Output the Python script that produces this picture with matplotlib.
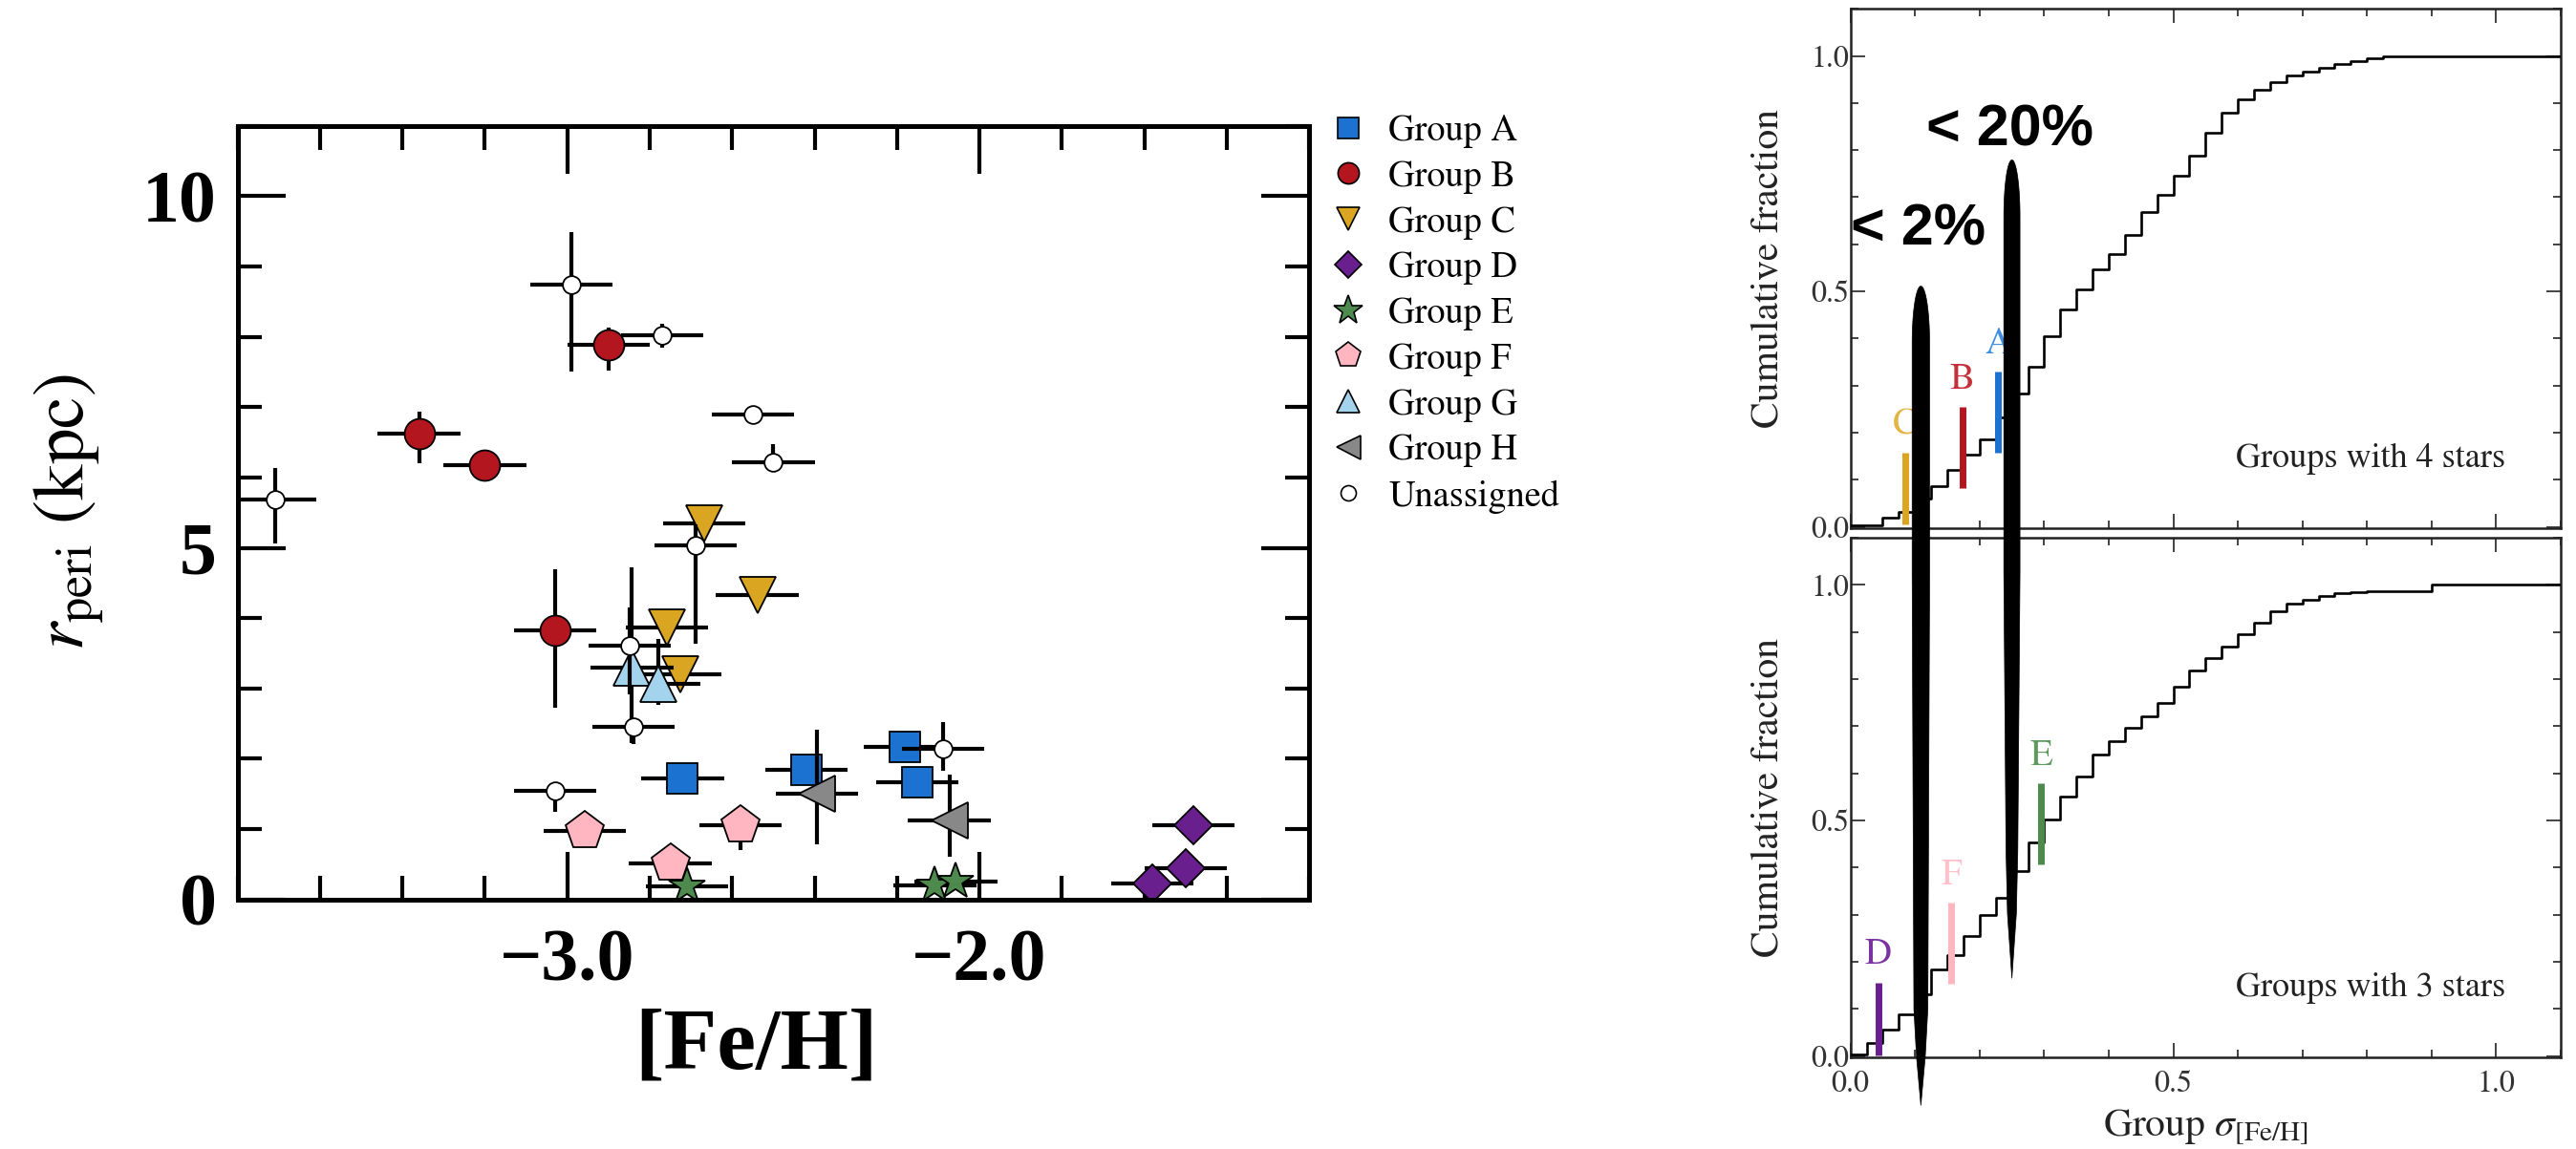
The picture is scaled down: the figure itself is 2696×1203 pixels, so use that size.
import numpy as np
import matplotlib
matplotlib.use("Agg")
import matplotlib.pyplot as plt
from matplotlib.lines import Line2D
from matplotlib.patches import Polygon
from matplotlib.ticker import MultipleLocator, FixedLocator, FuncFormatter

plt.rcParams["mathtext.fontset"] = "stix"

# ---------------- data: left panel ([Fe/H] vs r_peri) ----------------
feh_A = [-2.72, -2.42, -2.18, -2.15]
rp_A = [1.72, 1.84, 2.17, 1.66]
rlo_A = [0.10, 0.15, 0.10, 0.10]
rhi_A = [0.10, 0.15, 0.10, 0.10]

feh_B = [-3.36, -3.20, -2.90, -3.03]
rp_B = [6.62, 6.17, 7.88, 3.82]
rlo_B = [0.42, 0.15, 0.36, 1.10]
rhi_B = [0.31, 0.15, 0.25, 0.88]

feh_C = [-2.668, -2.539, -2.759, -2.726]
rp_C = [5.35, 4.33, 3.86, 3.20]
rlo_C = [0.10, 0.10, 0.20, 0.20]
rhi_C = [0.10, 0.10, 0.20, 0.20]

feh_D = [-1.48, -1.50, -1.58]
rp_D = [1.06, 0.45, 0.23]
rlo_D = [0.10, 0.10, 0.10]
rhi_D = [0.10, 0.10, 0.10]

feh_E = [-2.709, -2.108, -2.057]
rp_E = [0.18, 0.20, 0.25]
rlo_E = [0.10, 0.10, 0.10]
rhi_E = [0.10, 0.10, 0.10]

feh_F = [-2.958, -2.75, -2.58]
rp_F = [0.98, 0.51, 1.05]
rlo_F = [0.10, 0.10, 0.35]
rhi_F = [0.10, 0.10, 0.10]

feh_G = [-2.843, -2.778]
rp_G = [3.30, 3.06]
rlo_G = [1.08, 0.30]
rhi_G = [1.42, 0.64]

feh_H = [-2.394, -2.073]
rp_H = [1.50, 1.12]
rlo_H = [0.71, 0.51]
rhi_H = [0.92, 0.66]

feh_U = [-3.709, -2.99, -2.77, -2.55, -2.50, -2.689, -2.848, -2.839, -3.03, -2.088]
rp_U = [5.69, 8.74, 8.02, 6.90, 6.22, 5.03, 3.61, 2.46, 1.54, 2.14]
rlo_U = [0.63, 1.24, 0.17, 0.10, 0.10, 1.39, 0.70, 0.25, 0.30, 0.31]
rhi_U = [0.44, 0.75, 0.17, 0.10, 0.25, 0.30, 0.54, 0.10, 0.10, 0.38]

feh_err = 0.1  # typical [Fe/H] uncertainty

group_labels = ["Group A", "Group B", "Group C", "Group D", "Group E",
                "Group F", "Group G", "Group H", "Unassigned"]

# ---------------- data: right panels (cumulative distributions) ----------------
sigma_edges = [0.000, 0.025, 0.050, 0.075, 0.100, 0.125, 0.150, 0.175, 0.200,
               0.225, 0.250, 0.275, 0.300, 0.325, 0.350, 0.375, 0.400, 0.425,
               0.450, 0.475, 0.500, 0.525, 0.550, 0.575, 0.600, 0.625, 0.650,
               0.675, 0.700, 0.725, 0.750, 0.775, 0.800, 0.825, 0.850, 0.875,
               0.900, 1.100]
cum4 = [0.004, 0.004, 0.019, 0.032, 0.060, 0.087, 0.120, 0.154, 0.186,
        0.232, 0.282, 0.340, 0.404, 0.461, 0.505, 0.546, 0.580, 0.620,
        0.668, 0.705, 0.745, 0.789, 0.836, 0.880, 0.908, 0.928, 0.945,
        0.958, 0.967, 0.974, 0.983, 0.989, 0.995, 0.998, 0.998, 0.999,
        1.000, 1.000]
cum3 = [0.003, 0.028, 0.055, 0.089, 0.130, 0.184, 0.214, 0.254, 0.300,
        0.335, 0.393, 0.453, 0.502, 0.551, 0.594, 0.639, 0.668, 0.697,
        0.720, 0.750, 0.784, 0.818, 0.845, 0.869, 0.896, 0.920, 0.943,
        0.960, 0.968, 0.977, 0.982, 0.984, 0.986, 0.986, 0.986, 0.986,
        1.000, 1.000]

bar_names_4 = ["C", "B", "A"]
bar_sigma_4 = [0.085, 0.173, 0.229]
bar_lo_4 = [0.005, 0.083, 0.157]
bar_hi_4 = [0.157, 0.255, 0.330]

bar_names_3 = ["D", "F", "E"]
bar_sigma_3 = [0.043, 0.156, 0.295]
bar_lo_3 = [0.002, 0.153, 0.406]
bar_hi_3 = [0.156, 0.325, 0.578]

# ---------------- styles ----------------
col = {"A": "#1B72D0", "B": "#B3161F", "C": "#DAA520", "D": "#6A1F8F",
       "E": "#4E8A4E", "F": "#FFB6C1", "G": "#A4D3EE", "H": "#888888",
       "U": "white"}
lab_col = {"A": "#3F8FE0", "B": "#C4303A", "C": "#E3B547", "D": "#7A33A0",
           "E": "#5E9A5E", "F": "#FFC0CB"}
mk = {"A": "s", "B": "o", "C": "v", "D": "D", "E": "*", "F": "p", "G": "^",
      "H": "<", "U": "o"}
ms = {"A": 23.5, "B": 23, "C": 27, "D": 20, "E": 29, "F": 30, "G": 27,
      "H": 27, "U": 13.5}
ms_leg = {"A": 16.5, "B": 16, "C": 17, "D": 14, "E": 23, "F": 19.5, "G": 17.5,
          "H": 18, "U": 11.5}

W, H = 2696, 1203
fig = plt.figure(figsize=(W / 100, H / 100), dpi=100)

axL = fig.add_axes([248.75 / W, 1 - 941.7 / H, (1370 - 248.75) / W, (941.7 - 131.7) / H])
axT = fig.add_axes([1936.7 / W, 1 - 553 / H, (2680 - 1936.7) / W, (553 - 9.2) / H])
axB = fig.add_axes([1936.7 / W, 1 - 1107 / H, (2680 - 1936.7) / W, (1107 - 563) / H])

# ---------------- left panel ----------------
series = [("A", feh_A, rp_A, rlo_A, rhi_A), ("B", feh_B, rp_B, rlo_B, rhi_B),
          ("C", feh_C, rp_C, rlo_C, rhi_C), ("D", feh_D, rp_D, rlo_D, rhi_D),
          ("E", feh_E, rp_E, rlo_E, rhi_E), ("F", feh_F, rp_F, rlo_F, rhi_F),
          ("G", feh_G, rp_G, rlo_G, rhi_G), ("H", feh_H, rp_H, rlo_H, rhi_H),
          ("U", feh_U, rp_U, rlo_U, rhi_U)]
for i, (g, x, y, lo, hi) in enumerate(series):
    axL.errorbar(x, y, xerr=feh_err, yerr=[lo, hi], fmt=mk[g], ms=ms[g],
                 mfc=col[g], mec="black", mew=1.3, ecolor="black",
                 elinewidth=3, capsize=0, zorder=2 + 0.1 * i)

axL.set_xlim(-3.8, -1.2)
axL.set_ylim(0, 11)
axL.xaxis.set_major_locator(FixedLocator([-3.0, -2.0]))
axL.xaxis.set_minor_locator(MultipleLocator(0.2))
axL.yaxis.set_major_locator(MultipleLocator(5))
axL.yaxis.set_minor_locator(MultipleLocator(1))
axL.xaxis.set_major_formatter(FuncFormatter(lambda v, p: f"{v:.1f}".replace("-", "\u2212")))
axL.yaxis.set_major_formatter(FuncFormatter(lambda v, p: f"{v:.0f}"))
axL.tick_params(which="both", direction="in", top=True, right=True, width=3)
axL.tick_params(which="major", length=36)
axL.tick_params(which="minor", length=18)
axL.tick_params(axis="x", which="major", pad=22)
axL.tick_params(axis="y", which="major", pad=16)
for s in axL.spines.values():
    s.set_linewidth(3.6)
plt.setp(axL.get_xticklabels() + axL.get_yticklabels(),
         fontfamily="Liberation Serif", fontweight="bold", fontsize=56)
axL.set_xlabel("[Fe/H]", fontfamily="Liberation Serif", fontweight="bold", fontsize=66)
axL.xaxis.set_label_coords(0.484, -0.14)
axL.set_ylabel(r"$r_{\rm peri}$ (kpc)", fontfamily="STIXGeneral", fontsize=54)
axL.yaxis.set_label_coords(-0.122, 0.5)

handles = []
for g in ["A", "B", "C", "D", "E", "F", "G", "H", "U"]:
    handles.append(Line2D([], [], ls="none", marker=mk[g], ms=ms_leg[g],
                          mfc=col[g], mec="black", mew=1.2))
fig.legend(handles, group_labels, loc="upper left",
           bbox_to_anchor=(1392 / W, 1 - 120 / H), frameon=False,
           prop=dict(family="STIXGeneral", size=27.5), handlelength=1.0,
           handletextpad=0.6, labelspacing=0.34, borderpad=0, borderaxespad=0)

# ---------------- right panels ----------------
tick_col = "#333333"
for ax, cum, note in [(axT, cum4, "Groups with 4 stars"), (axB, cum3, "Groups with 3 stars")]:
    ax.step(sigma_edges, cum, where="post", color="black", lw=1.9, zorder=3)
    ax.set_xlim(0, 1.1)
    ax.set_ylim(-0.003, 1.1)
    ax.xaxis.set_major_locator(MultipleLocator(0.5))
    ax.xaxis.set_minor_locator(MultipleLocator(0.1))
    ax.yaxis.set_major_locator(MultipleLocator(0.5))
    ax.yaxis.set_minor_locator(MultipleLocator(0.1))
    fmt = FuncFormatter(lambda v, p: f"{v:.1f}")
    ax.xaxis.set_major_formatter(fmt)
    ax.yaxis.set_major_formatter(fmt)
    ax.tick_params(which="both", direction="in", top=True, right=True,
                   width=1.2, color="#222222", labelcolor=tick_col)
    ax.tick_params(which="major", length=11, labelsize=23)
    ax.tick_params(which="minor", length=6)
    ax.tick_params(axis="y", pad=1)
    ax.tick_params(axis="x", pad=10)
    for s in ax.spines.values():
        s.set_linewidth(1.8)
        s.set_color("#222222")
    plt.setp(ax.get_xticklabels() + ax.get_yticklabels(), fontfamily="STIXGeneral")
    ax.set_ylabel("Cumulative fraction", fontfamily="STIXGeneral", fontsize=30, color="#222222")
    ax.yaxis.set_label_coords(-0.09, 0.5)
    ax.text(1.015, 0.144, note, ha="right", va="center", fontfamily="STIXGeneral",
            fontsize=26, color="#222222")

axT.tick_params(labelbottom=False)
axB.set_xlabel(r"Group $\sigma_{\rm [Fe/H]}$", fontfamily="STIXGeneral", fontsize=30,
               color="#222222")
axB.xaxis.set_label_coords(0.5, -0.095)

for ax, names, xs, lo, hi in [(axT, bar_names_4, bar_sigma_4, bar_lo_4, bar_hi_4),
                              (axB, bar_names_3, bar_sigma_3, bar_lo_3, bar_hi_3)]:
    for n, x, a, b in zip(names, xs, lo, hi):
        ax.plot([x, x], [a, b], color=col[n], lw=5, solid_capstyle="butt", zorder=4)
        ax.text(x, b + 0.058, n, ha="center", va="center", color=lab_col[n],
                fontfamily="STIXGeneral", fontsize=28, zorder=4)

# annotation text
axT.text(0.0, 0.599, "< 2%", ha="left", va="baseline", fontfamily="Liberation Sans",
         fontweight="bold", fontsize=44, clip_on=False, zorder=6)
axT.text(0.118, 0.809, "< 20%", ha="left", va="baseline", fontfamily="Liberation Sans",
         fontweight="bold", fontsize=44, clip_on=False, zorder=6)


# hand-drawn elongated blobs (in top-panel data coordinates)
def blob(xc, hw, y_top, cap_h, profile):
    t = np.linspace(0, np.pi, 40)
    cap = np.column_stack([xc + hw * np.cos(t), (y_top - cap_h) + cap_h * np.sin(t)])
    left = [(xc - hw * f, y) for y, f in profile]
    right = [(xc + hw * f, y) for y, f in profile[::-1]]
    return np.vstack([cap, left, right])


left_profile = [(-0.097, 1.0), (-1.024, 0.80), (-1.126, 0.50), (-1.229, 0.0)]
right_profile = [(-0.097, 1.0), (-0.686, 0.73), (-0.822, 0.55), (-0.959, 0.0)]
for verts in [blob(0.109, 0.0135, 0.511, 0.12, left_profile),
              blob(0.250, 0.0125, 0.779, 0.12, right_profile)]:
    fig.add_artist(Polygon(verts, closed=True, transform=axT.transData,
                           facecolor="black", edgecolor="black", lw=0.5,
                           zorder=5, clip_on=False))

fig.savefig("out.png", dpi=100)
